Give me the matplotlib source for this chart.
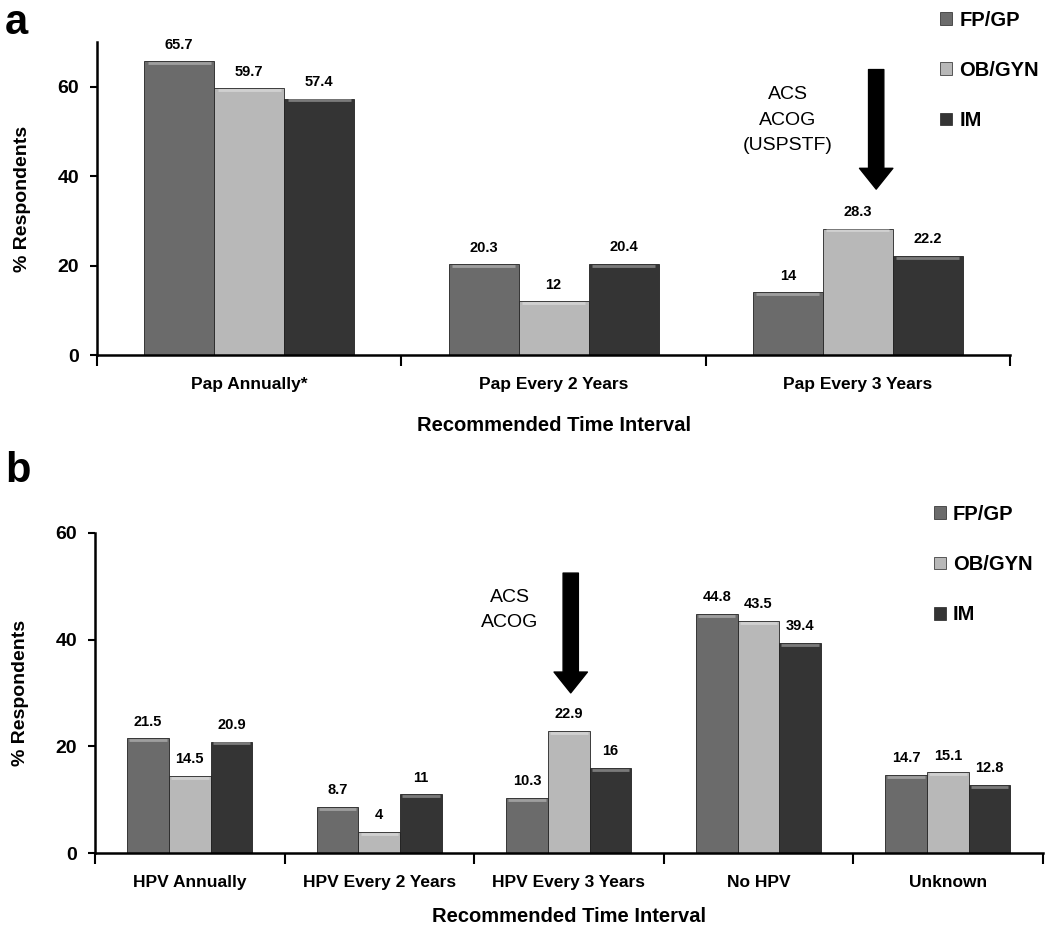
import numpy as np
import matplotlib.pyplot as plt
from matplotlib.patches import Patch

plt.rcParams['font.family'] = ['Liberation Sans', 'DejaVu Sans']

series = ["FP/GP", "OB/GYN", "IM"]
colors = ["#6b6b6b", "#b8b8b8", "#343434"]

cats_a = ["Pap Annually*", "Pap Every 2 Years", "Pap Every 3 Years"]
fpgp_a = [65.7, 20.3, 14]
obgyn_a = [59.7, 12, 28.3]
im_a = [57.4, 20.4, 22.2]

cats_b = ["HPV Annually", "HPV Every 2 Years", "HPV Every 3 Years", "No HPV", "Unknown"]
fpgp_b = [21.5, 8.7, 10.3, 44.8, 14.7]
obgyn_b = [14.5, 4, 22.9, 43.5, 15.1]
im_b = [20.9, 11, 16, 39.4, 12.8]

fig = plt.figure(figsize=(10.5, 9.38), dpi=100)
ax_a = fig.add_axes([0.0924, 0.6215, 0.8696, 0.3335])
ax_b = fig.add_axes([0.0905, 0.0906, 0.9025, 0.3412])


def draw(ax, cats, data, width, ymax, xlabelpad):
    x = np.arange(len(cats))
    for i, (vals, col) in enumerate(zip(data, colors)):
        pos = x + (i - 1) * width
        ax.bar(pos, vals, width, color=col, edgecolor="#222222", linewidth=0.6, zorder=2)
        # light bevel line on top of each bar
        ax.hlines(np.array(vals) - ymax * 0.006, pos - width * 0.45, pos + width * 0.45,
                  color="white", alpha=0.35, linewidth=2, zorder=3)
        for p, v in zip(pos, vals):
            ax.text(p, v + ymax * 0.03, "%g" % v, ha="center", va="bottom",
                    fontsize=10.5, fontweight="bold")
    ax.set_xlim(-0.5, len(cats) - 0.5)
    ax.set_ylim(0, ymax)
    ax.set_yticks([0, 20, 40, 60])
    ax.tick_params(axis="y", labelsize=14, width=1.5, length=5, pad=8)
    for lab in ax.get_yticklabels():
        lab.set_fontweight("bold")
    ax.set_xticks(np.arange(len(cats) + 1) - 0.5)
    ax.set_xticklabels([])
    ax.tick_params(axis="x", which="major", length=8, width=1.5, direction="out")
    ax.set_xticks(x, minor=True)
    ax.set_xticklabels(cats, minor=True, fontsize=12.5, fontweight="bold")
    ax.tick_params(axis="x", which="minor", length=0, pad=16)
    for s in ["top", "right"]:
        ax.spines[s].set_visible(False)
    for s in ["left", "bottom"]:
        ax.spines[s].set_linewidth(1.8)
    ax.set_ylabel("% Respondents", fontsize=14, fontweight="bold", labelpad=19)
    ax.set_xlabel("Recommended Time Interval", fontsize=14.5, fontweight="bold",
                  labelpad=xlabelpad)


draw(ax_a, cats_a, [fpgp_a, obgyn_a, im_a], 0.23, 70, 17)
draw(ax_b, cats_b, [fpgp_b, obgyn_b, im_b], 0.22, 60, 12)

# guideline arrows
arrow = dict(arrowstyle="simple,head_width=2.4,head_length=1.5,tail_width=1.1", color="black")
ax_a.annotate("", xy=(2.06, 36.5), xytext=(2.06, 64.5), arrowprops=arrow)
ax_a.text(1.77, 52.5, "ACS\nACOG\n(USPSTF)", ha="center", va="center", fontsize=14,
          linespacing=1.65)
ax_b.annotate("", xy=(2.01, 29.5), xytext=(2.01, 53), arrowprops=arrow)
ax_b.text(1.69, 45.5, "ACS\nACOG", ha="center", va="center", fontsize=14, linespacing=1.6)

handles = [Patch(facecolor=c, edgecolor="#222222", linewidth=0.5) for c in colors]
fig.legend(handles, series, loc="upper left", bbox_to_anchor=(0.878, 1.008), frameon=False,
           prop=dict(size=14.5, weight="bold"), handlelength=0.6, handleheight=0.6,
           handletextpad=0.35, labelspacing=1.55)
fig.legend(handles, series, loc="upper left", bbox_to_anchor=(0.872, 0.481), frameon=False,
           prop=dict(size=14.5, weight="bold"), handlelength=0.6, handleheight=0.6,
           handletextpad=0.35, labelspacing=1.55)

fig.text(0.005, 0.975, "a", fontsize=30, fontweight="bold", va="center")
fig.text(0.005, 0.498, "b", fontsize=30, fontweight="bold", va="center")

fig.savefig("out.png", dpi=100)
